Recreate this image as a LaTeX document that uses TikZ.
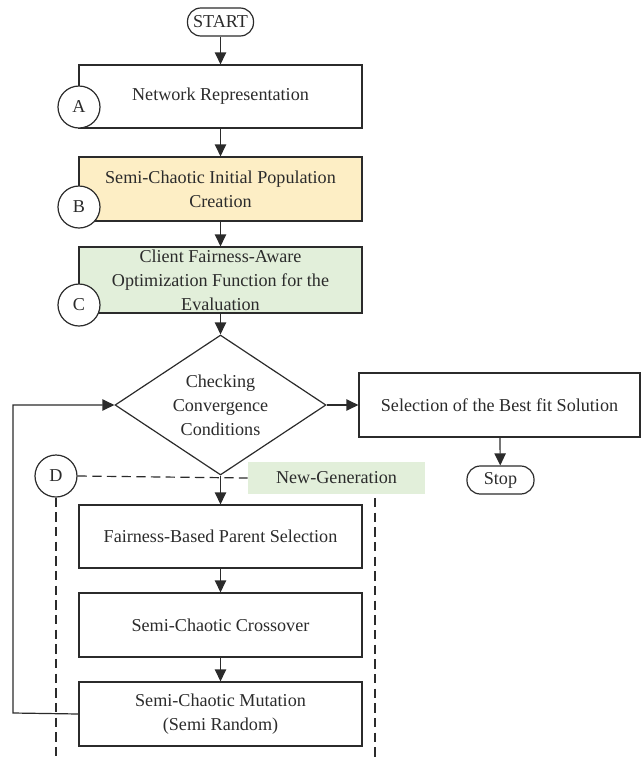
\documentclass[tikz,border=0pt]{standalone}
\usepackage{fontspec}
\setmainfont{Liberation Serif}
\usetikzlibrary{shapes.geometric,arrows.meta}
\definecolor{linec}{HTML}{2B2B2B}
\definecolor{yellowfill}{HTML}{FDEEC5}
\definecolor{greenfill}{HTML}{E2EFDA}
\tikzset{
  every node/.style={font=\fontsize{13.6}{18}\selectfont, text=linec},
  box/.style={draw=linec, line width=0.9pt, minimum width=283*0.75pt, align=center, inner sep=0pt},
  term/.style={draw=linec, line width=0.9pt, rounded corners=10pt, inner sep=0pt},
  tag/.style={draw=linec, line width=0.9pt, circle, fill=white, minimum size=42*0.75pt, inner sep=0pt},
  arr/.style={draw=linec, line width=0.9pt, -{Triangle[length=9pt,width=8.5pt]}},
  link/.style={draw=linec, line width=0.9pt},
  dashline/.style={draw=linec, line width=0.9pt, dash pattern=on 7pt off 4pt},
}
\begin{document}
\begin{tikzpicture}[x=0.75pt,y=-0.75pt]
\useasboundingbox (0,0) rectangle (641,758);
% start
\node[term, minimum width=66*0.75pt, minimum height=28*0.75pt] (start) at (220.5,22) {START};
% boxes
\node[box, minimum height=63*0.75pt] (net) at (220.5,96.5) {Network Representation};
\node[box, minimum height=64*0.75pt, fill=yellowfill] (pop) at (220.5,189) {Semi-Chaotic Initial Population\\Creation};
\node[box, minimum height=66*0.75pt, fill=greenfill] (eval) at (220.5,280) {Client Fairness-Aware\\Optimization Function for the\\Evaluation};
\node[draw=linec, line width=0.9pt, diamond, aspect=1.507, minimum width=211*0.75pt, minimum height=140*0.75pt, inner sep=0pt, align=center] (chk) at (220.5,405) {Checking\\Convergence\\Conditions};
\node[box, minimum width=281*0.75pt, minimum height=64*0.75pt] (best) at (499.5,405) {Selection of the Best fit Solution};
\node[term, minimum width=67*0.75pt, minimum height=28*0.75pt] (stop) at (500.5,480) {Stop};
\node[fill=greenfill, minimum width=177*0.75pt, minimum height=32*0.75pt, inner sep=0pt] (newgen) at (336.5,478) {New-Generation};
\node[box, minimum height=63*0.75pt] (par) at (220.5,536.5) {Fairness-Based Parent Selection};
\node[box, minimum height=64*0.75pt] (cross) at (220.5,625) {Semi-Chaotic Crossover};
\node[box, minimum height=64*0.75pt] (mut) at (220.5,714) {Semi-Chaotic Mutation\\(Semi Random)};
% tags
\node[tag] (ta) at (79,107) {A};
\node[tag] (tb) at (79,207) {B};
\node[tag] (tc) at (79,305) {C};
\node[tag] (td) at (56,476) {D};
% coordinates
\coordinate (loop) at (13,713);
\coordinate (dl) at (55,758);
\coordinate (rtop) at (375,498);
\coordinate (rbot) at (375,758);
% connectors
\draw[arr] (start) -- (net);
\draw[arr] (net) -- (pop);
\draw[arr] (pop) -- (eval);
\draw[arr] (eval) -- (chk.north);
\draw[arr] (chk.east) -- (best);
\draw[arr] (best) -- (stop);
\draw[dashline] (td.east) -- (newgen.west);
\draw[dashline] (td.south) -- (td.south |- dl);
\draw[dashline] (rtop) -- (rbot);
\draw[arr] (chk.south) -- (par);
\draw[arr] (par) -- (cross);
\draw[arr] (cross) -- (mut);
\draw[arr] (mut.west) -- (loop) -- (loop |- chk.west) -- (chk.west);
\end{tikzpicture}
\end{document}
